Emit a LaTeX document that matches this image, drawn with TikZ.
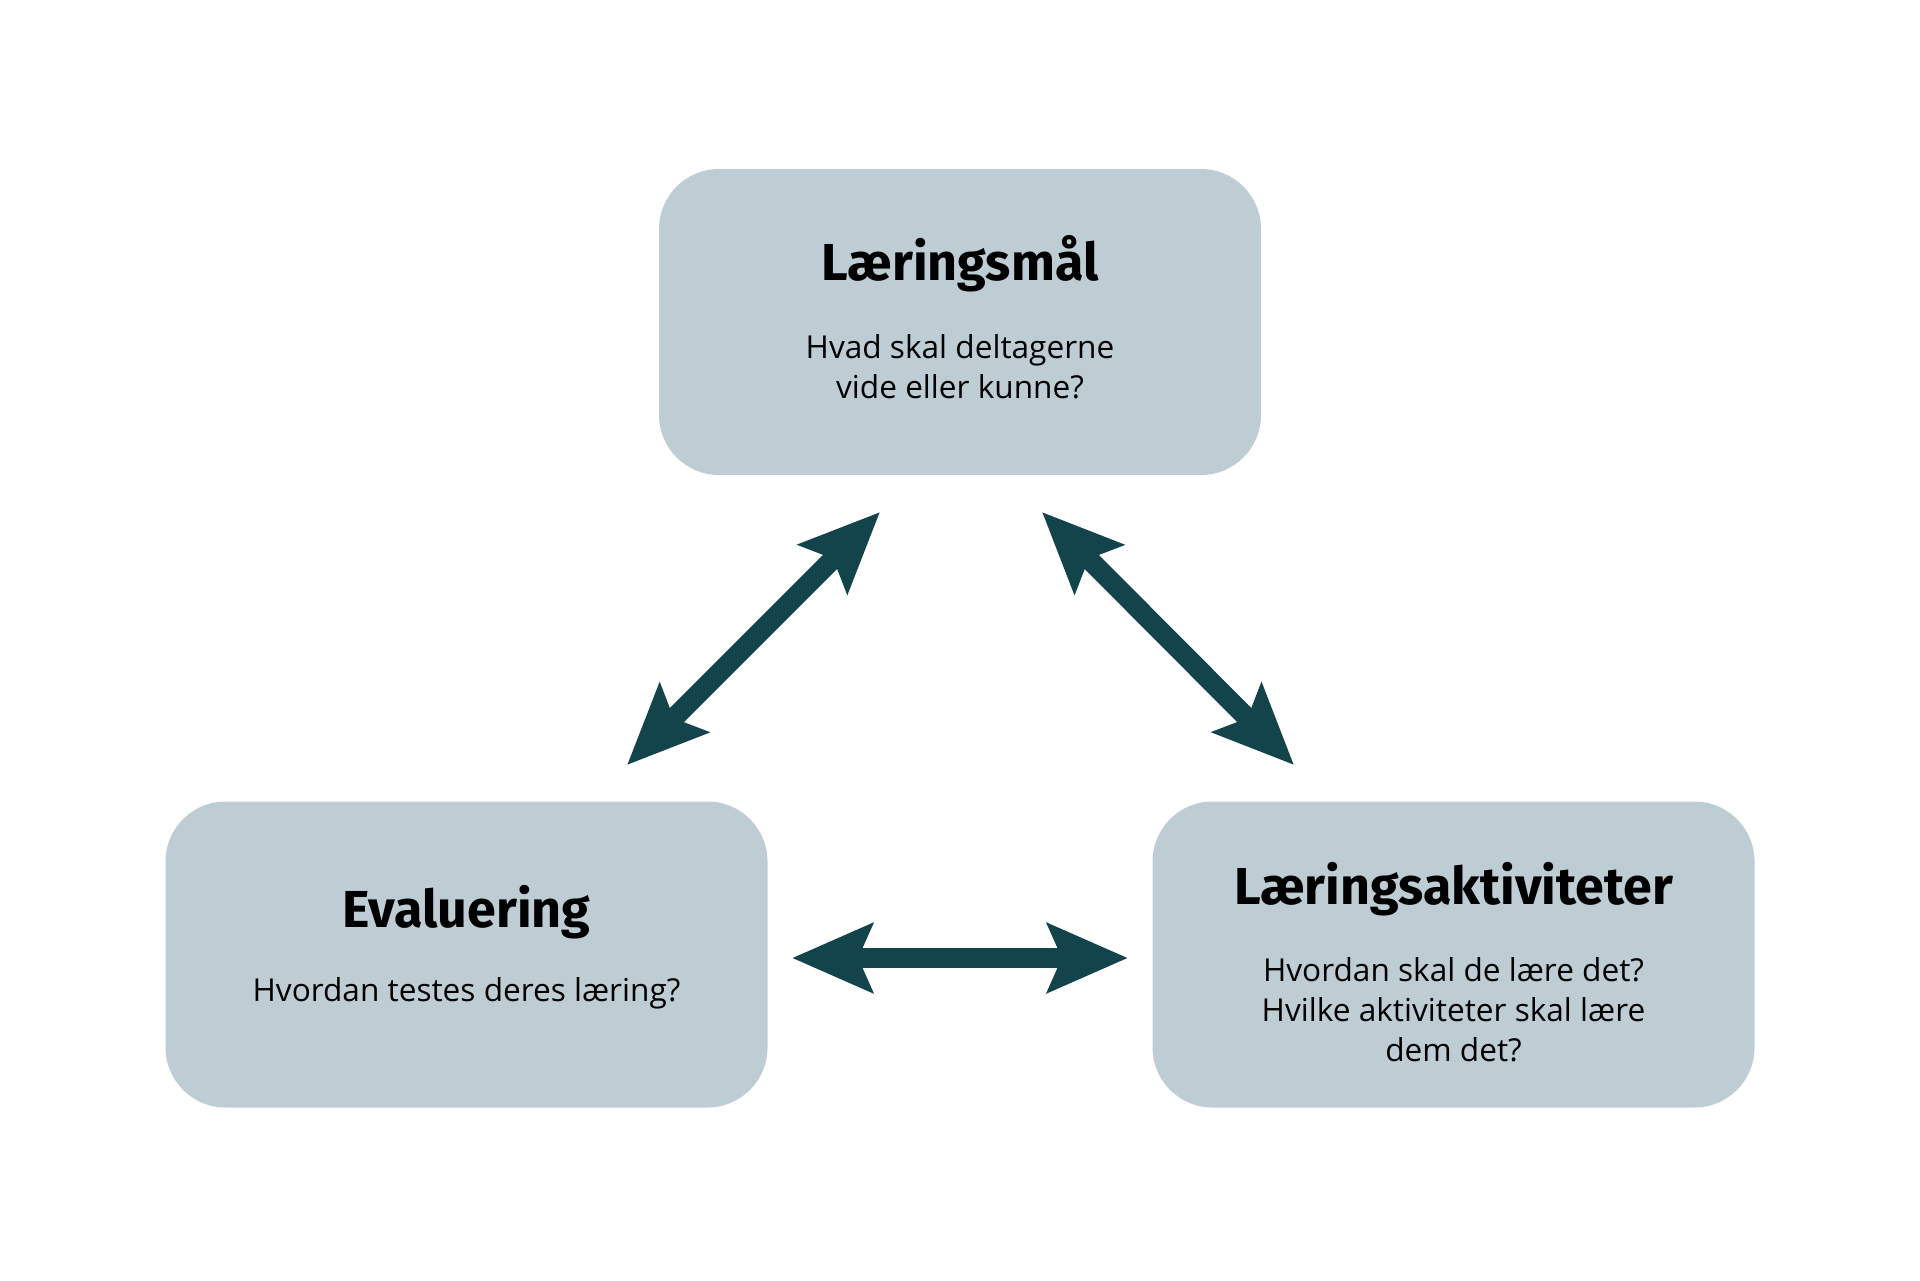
\documentclass[tikz,border=0pt]{standalone}
\usepackage{fontspec}
\setmainfont{Open Sans}
\newfontfamily\titlefont{Fira Sans}
\usetikzlibrary{arrows.meta}
\definecolor{boxfill}{HTML}{BECDD4}
\definecolor{arrowcol}{HTML}{13434B}
\tikzset{
  box/.style={fill=boxfill, rounded corners=30pt, minimum width=301pt, minimum height=153pt, inner sep=0pt},
  title/.style={font=\titlefont\bfseries\fontsize{26}{30}\selectfont, text=black, inner sep=0pt},
  body/.style={font=\fontsize{15.8}{20}\selectfont, text=black, align=center, inner sep=0pt},
  bigarrow/.style={draw=arrowcol, line width=10pt, {Stealth[length=40pt,width=34pt,inset=7pt]}-{Stealth[length=40pt,width=34pt,inset=7pt]}}
}
\begin{document}
\begin{tikzpicture}[x=0.5pt,y=-0.5pt]
\useasboundingbox (0,0) rectangle (1920,1280);
\fill[white] (0,0) rectangle (1920,1280);
\node[box] (top) at (960,322) {};
\node[box] (left) at (466.5,954.5) {};
\node[box] (right) at (1453.5,954.5) {};
\node[title] (toptitle) at (960,264) {Læringsmål};
\node[body] (topbody) at (960,367) {Hvad skal deltagerne\\vide eller kunne?};
\node[title] (lefttitle) at (466.5,912) {Evaluering};
\node[body] (leftbody) at (466.5,993) {Hvordan testes deres læring?};
\node[title] (righttitle) at (1453.5,889) {Læringsaktiviteter};
\node[body] (rightbody) at (1453.5,1010) {Hvordan skal de lære det?\\Hvilke aktiviteter skal lære\\dem det?};
\coordinate (a1) at (627,765);
\coordinate (a2) at (880,512);
\coordinate (b1) at (1042,512);
\coordinate (b2) at (1294,765);
\coordinate (c1) at (792,958);
\coordinate (c2) at (1128,958);
\draw[bigarrow] (a1) -- (a2);
\draw[bigarrow] (b1) -- (b2);
\draw[bigarrow] (c1) -- (c2);
\end{tikzpicture}
\end{document}
